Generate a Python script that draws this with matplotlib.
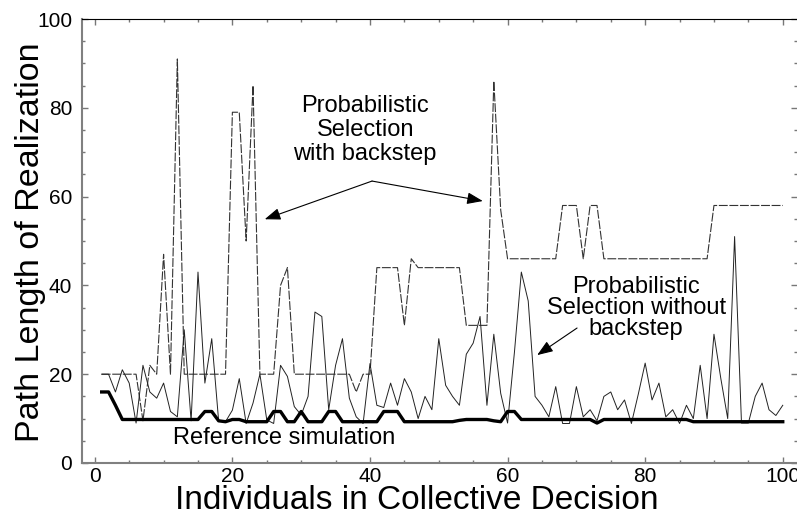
import numpy as np
import matplotlib
matplotlib.use("Agg")
import matplotlib.pyplot as plt
from matplotlib.ticker import MultipleLocator

plt.rcParams['font.family'] = ['Liberation Sans', 'DejaVu Sans']

# individuals in the collective decision
individuals = np.arange(1, 101)

# probabilistic selection with backstep (dashed)
with_backstep = [20, 20, 20, 20, 20, 20, 9.5, 22, 20, 47,
                 20, 91, 20, 20, 20, 20, 20, 20, 20, 79,
                 79, 50, 85, 20, 20, 20, 40, 44, 20, 20,
                 20, 20, 20, 20, 20, 20, 20, 16, 20, 20,
                 44, 44, 44, 44, 31, 46, 44, 44, 44, 44,
                 44, 44, 44, 31, 31, 31, 31, 86, 57, 46,
                 46, 46, 46, 46, 46, 46, 46, 58, 58, 58,
                 46, 58, 58, 46, 46, 46, 46, 46, 46, 46,
                 46, 46, 46, 46, 46, 46, 46, 46, 46, 58,
                 58, 58, 58, 58, 58, 58, 58, 58, 58, 58]

# probabilistic selection without backstep (thin solid)
without_backstep = [20, 20, 16, 21, 18, 9, 22, 16, 14.6, 18,
                    11.6, 10.4, 30, 9.5, 43, 18, 28, 9.5, 9.3, 11.9,
                    19, 8.9, 13.5, 20, 9.7, 8.9, 22, 19.5, 12.7, 10.8,
                    15, 34, 33, 12, 22, 28, 14.6, 10.4, 8.9, 22.4,
                    13, 12.5, 18, 13, 19, 16, 10, 15, 12, 28,
                    17.5, 15, 13, 24.5, 27, 33, 13, 29, 15.7, 9,
                    25, 43, 36.5, 15, 13, 10.4, 17.2, 8.9, 8.9, 17.2,
                    10.4, 12, 9.5, 15, 16, 12, 14.2, 8.9, 15.5, 22.5,
                    14.2, 18, 10.4, 12, 8.9, 13, 10, 22, 10, 29,
                    19, 10, 51, 9, 9, 15, 18, 12, 10.7, 13]

# reference simulation (thick)
reference = [16, 16, 13, 9.8, 9.8, 9.8, 9.8, 9.8, 9.8, 9.8,
             9.8, 9.8, 9.8, 9.8, 9.8, 11.6, 11.6, 9.5, 9.3, 9.8,
             9.8, 9.3, 9.3, 9.3, 9.3, 11.6, 11.6, 9.3, 9.3, 11.6,
             9.3, 9.3, 9.3, 11.6, 11.6, 9.3, 9.3, 9.3, 9.3, 9.3,
             9.3, 11.6, 11.6, 11.6, 9.3, 9.3, 9.3, 9.3, 9.3, 9.3,
             9.3, 9.3, 9.6, 9.8, 9.8, 9.8, 9.8, 9.5, 9.3, 11.6,
             11.6, 9.8, 9.8, 9.8, 9.8, 9.8, 9.8, 9.8, 9.8, 9.8,
             9.8, 9.8, 9.0, 9.8, 9.8, 9.8, 9.8, 9.8, 9.8, 9.8,
             9.8, 9.8, 9.8, 9.8, 9.8, 9.8, 9.3, 9.3, 9.3, 9.3,
             9.3, 9.3, 9.3, 9.3, 9.3, 9.3, 9.3, 9.3, 9.3, 9.3]

fig = plt.figure(figsize=(7.97, 5.16), dpi=100)
ax = fig.add_axes([82/797, 53/516, 715/797, 444/516])

ax.plot(individuals, with_backstep, color='#333333', lw=0.8, dashes=(8, 1.5))
ax.plot(individuals, without_backstep, color='#222222', lw=0.7)
ax.plot(individuals, reference, color='black', lw=2.4, solid_joinstyle='round')

ax.set_xlim(-1.86, 102.07)
ax.set_ylim(0, 100)

ax.xaxis.set_major_locator(MultipleLocator(20))
ax.xaxis.set_minor_locator(MultipleLocator(5))
ax.yaxis.set_major_locator(MultipleLocator(20))
ax.yaxis.set_minor_locator(MultipleLocator(5))
ax.tick_params(which='both', direction='in', top=True, right=True, labelsize=15, colors='#777777', labelcolor='black')
ax.tick_params(which='major', length=4.5, width=1)
ax.tick_params(which='minor', length=2.5, width=1)
ax.tick_params(axis='y', pad=7)
ax.tick_params(axis='x', pad=3)

for s in ['left', 'bottom']:
    ax.spines[s].set_color('#808080')
    ax.spines[s].set_linewidth(1.5)
ax.spines['top'].set_linewidth(0.8)
ax.spines['right'].set_visible(False)

ax.set_xlabel('Individuals in Collective Decision', fontsize=24, va='center')
ax.xaxis.set_label_coords(0.4685, -0.085)
ax.set_ylabel('Path Length of Realization', fontsize=24.5, va='center')
ax.yaxis.set_label_coords(-0.072, 0.497)

ax.text(39.3, 75, 'Probabilistic\nSelection\nwith backstep', fontsize=17, ha='center', va='center',
        multialignment='center', linespacing=1.1)
ax.text(78.7, 34.9, 'Probabilistic\nSelection without\nbackstep', fontsize=17, ha='center', va='center',
        multialignment='center', linespacing=0.95)
ax.text(27.5, 5.6, 'Reference simulation', fontsize=17, ha='center', va='center')

arrow = dict(arrowstyle='-|>,head_length=0.8,head_width=0.3', color='black', lw=0.8,
             mutation_scale=12, shrinkA=0, shrinkB=0)
ax.annotate('', xy=(24.7, 54.9), xytext=(40.3, 63.5), arrowprops=arrow)
ax.annotate('', xy=(56.4, 59.0), xytext=(40.3, 63.5), arrowprops=arrow)
ax.annotate('', xy=(64.3, 24.3), xytext=(70.1, 30.4), arrowprops=arrow)

fig.savefig('out.png', dpi=100)
